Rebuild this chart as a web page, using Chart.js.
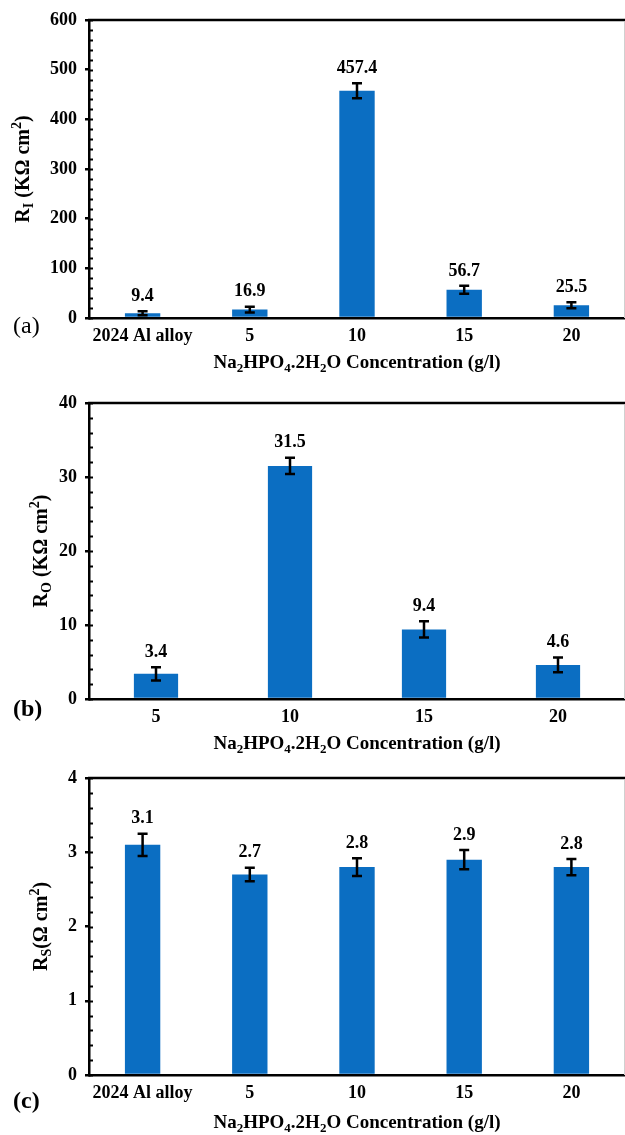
<!DOCTYPE html>
<html>
<head>
<meta charset="utf-8">
<script src="https://cdn.jsdelivr.net/npm/chart.js@4/dist/chart.umd.min.js"></script>
<style>
  body { margin: 0; background: #fff; }
  .panel { position: absolute; left: 0; }
  canvas { display: block; }
</style>
</head>
<body>
<div class="panel" style="top:0"><canvas id="chartA" width="625" height="378"></canvas></div>
<div class="panel" style="top:378px"><canvas id="chartB" width="625" height="379"></canvas></div>
<div class="panel" style="top:757px"><canvas id="chartC" width="625" height="378"></canvas></div>
<script>
// данные (a) — R_I
const categoriesA = ['2024 Al alloy', '5', '10', '15', '20'];
const valuesA = [9.4, 16.9, 457.4, 56.7, 25.5];
const errorsA = [4, 6, 15, 8, 6];

// данные (b) — R_O
const categoriesB = ['5', '10', '15', '20'];
const valuesB = [3.4, 31.5, 9.4, 4.6];
const errorsB = [0.9, 1.1, 1.1, 1.0];

// данные (c) — R_S
const categoriesC = ['2024 Al alloy', '5', '10', '15', '20'];
const valuesC = [3.1, 2.7, 2.8, 2.9, 2.8];
const errorsC = [0.15, 0.09, 0.12, 0.13, 0.11];

const BAR_COLOR = '#0b6ec2';
const SERIF = '"Liberation Serif", "Times New Roman", serif';
const AXIS_X = 89;

const xTitleParts = [['Na', ''], ['2', 'sub'], ['HPO', ''], ['4', 'sub'], ['.2H', ''], ['2', 'sub'], ['O Concentration (g/l)', '']];

// рисуем строку с индексами (sub / sup), центр в (0,0)
function drawRich(ctx, parts, size) {
    const fontFor = (kind) => 'bold ' + (kind ? Math.round(size * 0.68) : size) + 'px ' + SERIF;
    let total = 0;
    parts.forEach(p => { ctx.font = fontFor(p[1]); total += ctx.measureText(p[0]).width; });
    let x = -total / 2;
    ctx.textBaseline = 'alphabetic';
    ctx.textAlign = 'left';
    parts.forEach(p => {
        ctx.font = fontFor(p[1]);
        let dy = size * 0.33;
        if (p[1] === 'sub') dy += size * 0.22;
        if (p[1] === 'sup') dy -= size * 0.4;
        ctx.fillText(p[0], x, dy);
        x += ctx.measureText(p[0]).width;
    });
}

const framePlugin = {
    id: 'frame',
    afterDraw(chart, args, opts) {
        const ctx = chart.ctx;
        const area = chart.chartArea;
        const y = chart.scales.y;
        ctx.save();
        ctx.strokeStyle = '#000';
        ctx.lineWidth = 2.5;
        ctx.beginPath();
        ctx.moveTo(area.left - 1, area.top);
        ctx.lineTo(area.right, area.top);
        ctx.stroke();
        // мелкие засечки внутрь
        ctx.lineWidth = 2;
        for (let v = y.min; v <= y.max + 1e-9; v += opts.minorStep) {
            const py = Math.round(y.getPixelForValue(v)) + 0.5;
            ctx.beginPath();
            ctx.moveTo(area.left, py);
            ctx.lineTo(area.left + 4, py);
            ctx.stroke();
        }
        ctx.strokeStyle = '#d0d0d0';
        ctx.lineWidth = 1;
        ctx.beginPath();
        ctx.moveTo(area.right - 0.5, area.top + 2);
        ctx.lineTo(area.right - 0.5, area.bottom);
        ctx.stroke();
        ctx.restore();
    }
};

const errorBarPlugin = {
    id: 'errorBars',
    afterDatasetsDraw(chart) {
        const ctx = chart.ctx;
        const y = chart.scales.y;
        const ds = chart.data.datasets[0];
        const meta = chart.getDatasetMeta(0);
        ctx.save();
        meta.data.forEach((bar, i) => {
            const v = ds.data[i];
            const e = ds.errors[i];
            const top = y.getPixelForValue(v + e);
            const bot = y.getPixelForValue(v - e);
            ctx.strokeStyle = '#000';
            ctx.lineWidth = 2.5;
            ctx.beginPath();
            ctx.moveTo(bar.x, top);
            ctx.lineTo(bar.x, bot);
            ctx.moveTo(bar.x - 5, top);
            ctx.lineTo(bar.x + 5, top);
            ctx.moveTo(bar.x - 5, bot);
            ctx.lineTo(bar.x + 5, bot);
            ctx.stroke();
            ctx.fillStyle = '#000';
            ctx.font = 'bold 18px ' + SERIF;
            ctx.textAlign = 'center';
            ctx.textBaseline = 'bottom';
            ctx.fillText(String(v), bar.x, top - 6);
        });
        ctx.restore();
    }
};

const textPlugin = {
    id: 'panelText',
    afterDraw(chart, args, opts) {
        const ctx = chart.ctx;
        const area = chart.chartArea;
        ctx.save();
        ctx.fillStyle = '#000';
        // подпись оси X
        ctx.translate((area.left + area.right) / 2, opts.xTitleY);
        drawRich(ctx, xTitleParts, 19);
        ctx.setTransform(1, 0, 0, 1, 0, 0);
        // подпись оси Y
        ctx.translate(opts.yTitleX, (area.top + area.bottom) / 2);
        ctx.rotate(-Math.PI / 2);
        drawRich(ctx, opts.yTitle, 20);
        ctx.setTransform(1, 0, 0, 1, 0, 0);
        // метка панели
        ctx.font = opts.tagWeight + ' 24px ' + SERIF;
        ctx.textAlign = 'left';
        ctx.textBaseline = 'middle';
        ctx.fillText(opts.tag, 13, opts.tagY);
        ctx.restore();
    }
};

function makePanel(id, categories, values, errors, cfg) {
    const ctx = document.getElementById(id);
    return new Chart(ctx, {
        type: 'bar',
        data: {
            labels: categories,
            datasets: [{
                data: values,
                errors: errors,
                backgroundColor: BAR_COLOR,
                borderWidth: 0,
                barPercentage: 0.33,
                categoryPercentage: 1
            }]
        },
        options: {
            responsive: false,
            animation: false,
            layout: { padding: { top: cfg.top, left: 0, right: 0, bottom: 0 } },
            plugins: {
                legend: { display: false },
                tooltip: { enabled: false },
                frame: { minorStep: cfg.minorStep },
                panelText: cfg.text
            },
            scales: {
                x: {
                    grid: { display: false, drawTicks: false },
                    border: { display: true, color: '#000', width: 2.5 },
                    ticks: {
                        color: '#000',
                        padding: 8,
                        maxRotation: 0,
                        font: { family: SERIF, size: 18, weight: 'bold' }
                    },
                    afterFit: (scale) => { scale.height = cfg.xHeight; }
                },
                y: {
                    min: 0,
                    max: cfg.yMax,
                    ticks: {
                        stepSize: cfg.yStep,
                        color: '#000',
                        padding: 8,
                        font: { family: SERIF, size: 18, weight: 'bold' }
                    },
                    grid: {
                        drawOnChartArea: false,
                        tickLength: 4,
                        lineWidth: 2.5,
                        color: '#000'
                    },
                    border: { display: true, color: '#000', width: 2.5 },
                    afterFit: (scale) => { scale.width = AXIS_X; }
                }
            }
        },
        plugins: [framePlugin, errorBarPlugin, textPlugin]
    });
}

makePanel('chartA', categoriesA, valuesA, errorsA, {
    top: 20, xHeight: 60, yMax: 600, yStep: 100, minorStep: 20,
    text: {
        xTitleY: 362, yTitleX: 22, tag: '(a)', tagY: 327, tagWeight: 'normal',
        yTitle: [['R', ''], ['I', 'sub'], [' (KΩ cm', ''], ['2', 'sup'], [')', '']]
    }
});

makePanel('chartB', categoriesB, valuesB, errorsB, {
    top: 25, xHeight: 58, yMax: 40, yStep: 10, minorStep: 2,
    text: {
        xTitleY: 365, yTitleX: 40, tag: '(b)', tagY: 332, tagWeight: 'bold',
        yTitle: [['R', ''], ['O', 'sub'], [' (KΩ cm', ''], ['2', 'sup'], [')', '']]
    }
});

makePanel('chartC', categoriesC, valuesC, errorsC, {
    top: 21, xHeight: 60, yMax: 4, yStep: 1, minorStep: 0.2,
    text: {
        xTitleY: 365, yTitleX: 40, tag: '(c)', tagY: 345, tagWeight: 'bold',
        yTitle: [['R', ''], ['S', 'sub'], ['(Ω cm', ''], ['2', 'sup'], [')', '']]
    }
});
</script>
</body>
</html>
